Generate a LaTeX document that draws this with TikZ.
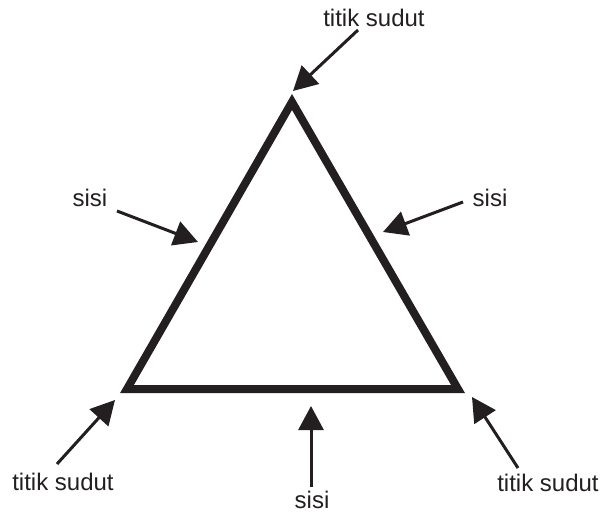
\documentclass[tikz,border=0pt]{standalone}
\usepackage{fontspec}
\setmainfont{Liberation Sans}
\usetikzlibrary{arrows.meta}
\definecolor{ink}{HTML}{231F20}
\begin{document}
\begin{tikzpicture}[x=1pt,y=-1pt,
  lbl/.style={anchor=base,inner sep=0pt,font=\fontsize{24}{28}\selectfont,text=ink},
  pointer/.style={draw=ink,line width=3pt,-{Triangle[length=24pt,width=25pt]}}]
\useasboundingbox (0,0) rectangle (602,513);
% triangle
\coordinate (A) at (292,102);
\coordinate (B) at (127,389);
\coordinate (C) at (458,389);
\draw[ink,line width=8pt,line join=miter] (A) -- (B) -- (C) -- cycle;
% labels
\node[lbl] (top) at (374,27) {titik sudut};
\node[lbl] (sl) at (90,207) {sisi};
\node[lbl] (sr) at (490,207) {sisi};
\node[lbl] (bl) at (63,490) {titik sudut};
\node[lbl] (sb) at (312,508) {sisi};
\node[lbl] (br) at (548,491) {titik sudut};
% arrow tails and tips
\coordinate (t1) at (358,30);  \coordinate (h1) at (293,91);
\coordinate (t2) at (117,211); \coordinate (h2) at (198,242);
\coordinate (t3) at (463,202); \coordinate (h3) at (383,232);
\coordinate (t4) at (57,464);  \coordinate (h4) at (115,400);
\coordinate (t5) at (311,487); \coordinate (h5) at (311,406);
\coordinate (t6) at (518,468); \coordinate (h6) at (472,397);
\draw[pointer] (t1) -- (h1);
\draw[pointer] (t2) -- (h2);
\draw[pointer] (t3) -- (h3);
\draw[pointer] (t4) -- (h4);
\draw[pointer] (t5) -- (h5);
\draw[pointer] (t6) -- (h6);
\end{tikzpicture}
\end{document}
